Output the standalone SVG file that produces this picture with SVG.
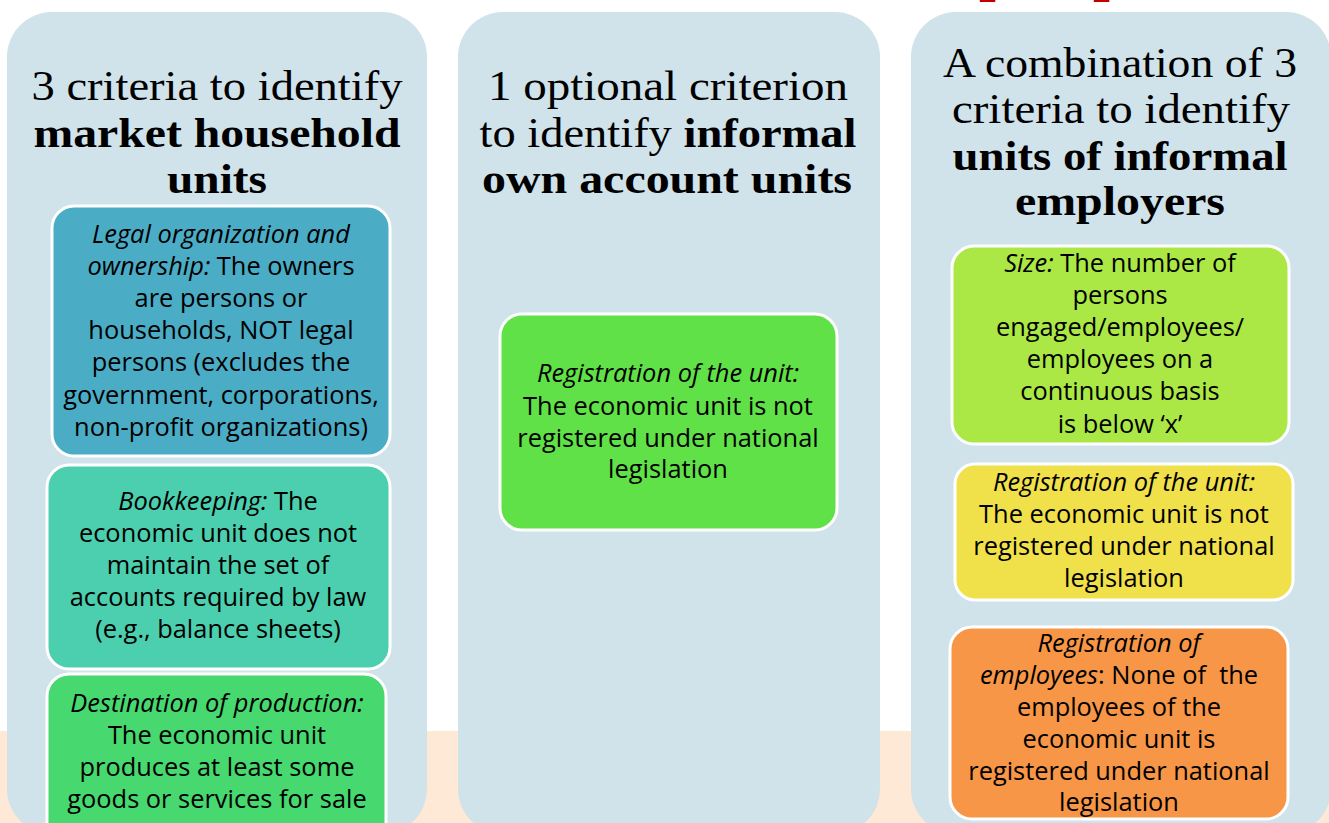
<svg xmlns="http://www.w3.org/2000/svg" width="1329" height="823" viewBox="0 0 1329 823">
<style>
.panel{fill:#d0e2ea}
.box{stroke:#ffffff;stroke-width:3}
.title{font-family:"Liberation Serif","Times New Roman",serif;font-size:43px;fill:#000;text-anchor:middle}
.b{font-weight:bold}
.t{font-family:"Open Sans","Liberation Sans",Arial,sans-serif;font-size:25.4px;fill:#000;text-anchor:middle}
.i{font-style:italic}
.red{font-family:"Liberation Serif",serif;font-weight:bold;font-size:60px;fill:#c00000}
</style>
<rect x="0" y="0" width="1329" height="823" fill="#ffffff"/>
<rect x="0" y="731" width="1329" height="92" fill="#fde9d6"/>
<g id="top-red-title">
<text class="red" x="979" y="-11">p</text>
<text class="red" x="1093" y="-11">p</text>
</g>

<g id="panel-market">
<rect class="panel" x="7" y="12" width="420" height="822" rx="45"/>
<text class="title" x="217" y="100" textLength="371" lengthAdjust="spacingAndGlyphs">3 criteria to identify</text>
<text class="title b" x="217" y="147" textLength="367" lengthAdjust="spacingAndGlyphs">market household</text>
<text class="title b" x="217" y="193" textLength="100" lengthAdjust="spacingAndGlyphs">units</text>
</g>
<g id="panel-ownaccount">
<rect class="panel" x="458" y="12" width="422" height="822" rx="45"/>
<text class="title" x="668" y="100" textLength="360" lengthAdjust="spacingAndGlyphs">1 optional criterion</text>
<text class="title" x="668" y="147" textLength="377" lengthAdjust="spacingAndGlyphs">to identify <tspan class="b">informal</tspan></text>
<text class="title b" x="667" y="193" textLength="370" lengthAdjust="spacingAndGlyphs">own account units</text>
</g>
<g id="panel-employers">
<rect class="panel" x="911" y="12" width="420" height="822" rx="45"/>
<text class="title" x="1120" y="77" textLength="354" lengthAdjust="spacingAndGlyphs">A combination of 3</text>
<text class="title" x="1121" y="123" textLength="338" lengthAdjust="spacingAndGlyphs">criteria to identify</text>
<text class="title b" x="1120" y="170" textLength="335" lengthAdjust="spacingAndGlyphs">units of informal</text>
<text class="title b" x="1120" y="215" textLength="210" lengthAdjust="spacingAndGlyphs">employers</text>
</g>

<g id="box-legal">
<rect class="box" x="52" y="206" width="338" height="250" rx="22" fill="#4bacc6"/>
<text class="t" x="221" y="243"><tspan class="i">Legal organization and</tspan></text>
<text class="t" x="221" y="275"><tspan class="i">ownership:</tspan> The owners</text>
<text class="t" x="221" y="307">are persons or</text>
<text class="t" x="221" y="339">households, NOT legal</text>
<text class="t" x="221" y="371">persons (excludes the</text>
<text class="t" x="221" y="404">government, corporations,</text>
<text class="t" x="221" y="436">non-profit organizations)</text>
</g>
<g id="box-bookkeeping">
<rect class="box" x="47" y="465" width="343" height="204" rx="22" fill="#4ccfae"/>
<text class="t" x="218" y="510"><tspan class="i">Bookkeeping:</tspan> The</text>
<text class="t" x="218" y="542">economic unit does not</text>
<text class="t" x="218" y="574">maintain the set of</text>
<text class="t" x="218" y="606">accounts required by law</text>
<text class="t" x="218" y="638">(e.g., balance sheets)</text>
</g>
<g id="box-destination">
<rect class="box" x="47" y="674" width="339" height="180" rx="22" fill="#47d870"/>
<text class="t" x="217" y="712"><tspan class="i">Destination of production:</tspan></text>
<text class="t" x="217" y="744">The economic unit</text>
<text class="t" x="217" y="776">produces at least some</text>
<text class="t" x="217" y="808">goods or services for sale</text>
</g>

<g id="box-registration-own">
<rect class="box" x="500" y="314" width="337" height="216" rx="22" fill="#61e148"/>
<text class="t" x="668" y="382"><tspan class="i">Registration of the unit:</tspan></text>
<text class="t" x="668" y="415">The economic unit is not</text>
<text class="t" x="668" y="447">registered under national</text>
<text class="t" x="668" y="478">legislation</text>
</g>

<g id="box-size">
<rect class="box" x="952" y="246" width="337" height="198" rx="22" fill="#abe846"/>
<text class="t" x="1120" y="272"><tspan class="i">Size:</tspan> The number of</text>
<text class="t" x="1120" y="304">persons</text>
<text class="t" x="1120" y="336">engaged/employees/</text>
<text class="t" x="1120" y="368">employees on a</text>
<text class="t" x="1120" y="400">continuous basis</text>
<text class="t" x="1120" y="433">is below ‘x’</text>
</g>
<g id="box-registration-emp">
<rect class="box" x="955" y="464" width="338" height="136" rx="20" fill="#f0e04a"/>
<text class="t" x="1124" y="491"><tspan class="i">Registration of the unit:</tspan></text>
<text class="t" x="1124" y="523">The economic unit is not</text>
<text class="t" x="1124" y="555">registered under national</text>
<text class="t" x="1124" y="587">legislation</text>
</g>
<g id="box-employees">
<rect class="box" x="950" y="627" width="338" height="192" rx="22" fill="#f79646"/>
<text class="t" x="1119" y="652"><tspan class="i">Registration of</tspan></text>
<text class="t" x="1119" y="684" xml:space="preserve"><tspan class="i">employees</tspan>: None of  the</text>
<text class="t" x="1119" y="716">employees of the</text>
<text class="t" x="1119" y="748">economic unit is</text>
<text class="t" x="1119" y="780">registered under national</text>
<text class="t" x="1119" y="811">legislation</text>
</g>
<g id="connectors"></g>
</svg>
